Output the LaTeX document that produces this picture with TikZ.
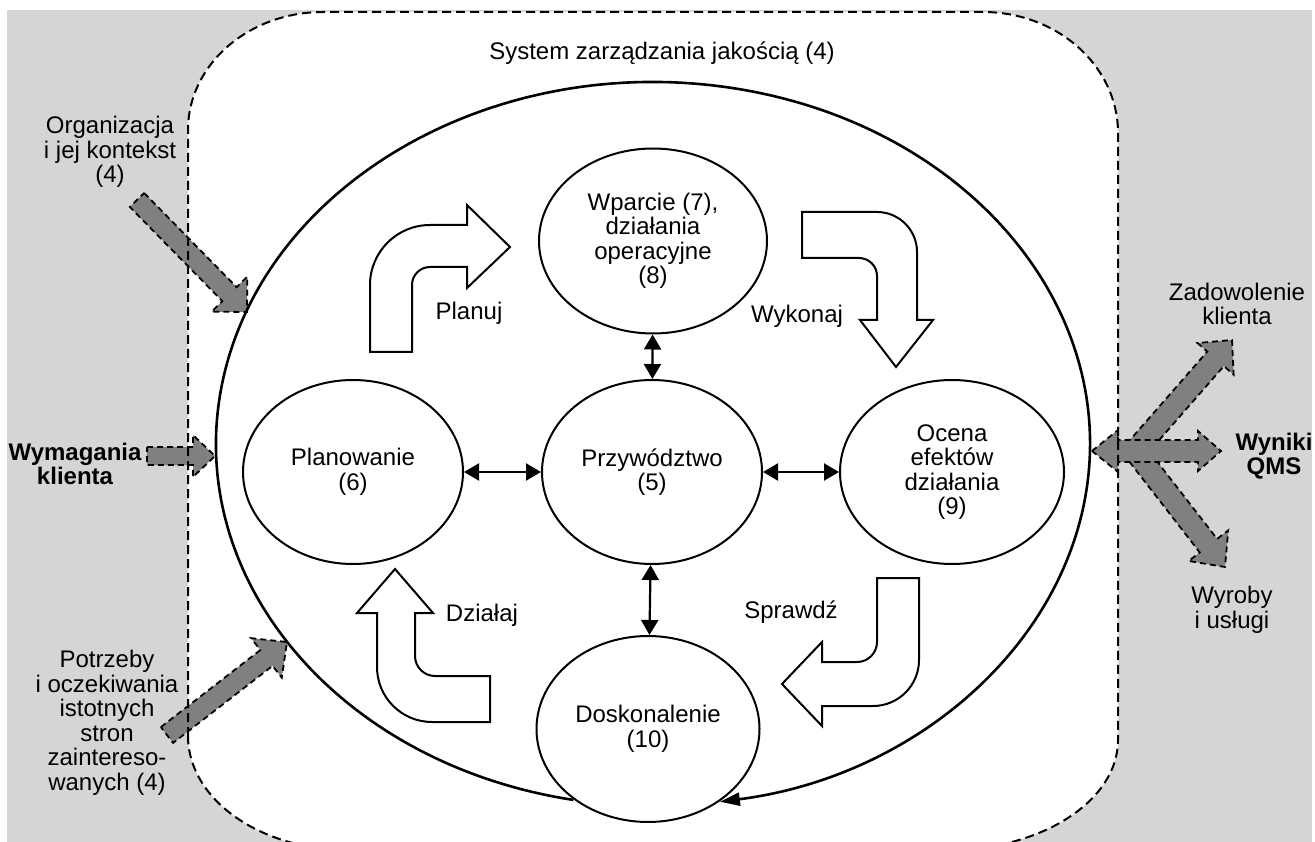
\documentclass[tikz,border=0pt]{standalone}
\usepackage{fontspec}
\setmainfont{Liberation Sans}
\usetikzlibrary{shapes.geometric, arrows.meta, calc}
\definecolor{bggray}{RGB}{213,213,213}
\definecolor{arrowgray}{RGB}{128,128,128}
\newcommand\qmsarrow[5]{%
  \coordinate (#2b) at ($(#2)!#4!(#1)$);
  \path[grayarrow] ($(#1)!#3!90:(#2)$) -- ($(#2b)!#3!90:(#2)$) -- ($(#2b)!#5!90:(#2)$) -- (#2)
    -- ($(#2b)!#5!-90:(#2)$) -- ($(#2b)!#3!-90:(#2)$) -- ($(#1)!#3!-90:(#2)$) -- cycle;}
\begin{document}
\begin{tikzpicture}[x=1pt, y=-1pt,
  every node/.style={font=\fontsize{24}{24.5}\selectfont, align=center, inner sep=0pt},
  boldtext/.style={font=\fontsize{24}{24.5}\selectfont\bfseries},
  proc/.style={draw, line width=2pt, ellipse, fill=white, minimum width=220pt, minimum height=184pt},
  dbl/.style={line width=2.2pt, {Triangle[length=15pt,width=17pt]}-{Triangle[length=15pt,width=17pt]}},
  blockarrow/.style={draw, line width=2pt, fill=white},
  grayarrow/.style={fill=arrowgray, draw, line width=1.8pt, dash pattern=on 6pt off 4pt},
  border/.style={draw, line width=2pt, dash pattern=on 9pt off 5pt}
]
\useasboundingbox (0,0) rectangle (1315,842);
\clip (0,0) rectangle (1315,842);
% background
\fill[bggray] (7,10) rectangle (1312,842);
\path[fill=white] (188,736) -- (188,130) arc[start angle=180,end angle=270,x radius=135,y radius=118]
  -- (983,12) arc[start angle=270,end angle=360,x radius=135,y radius=121]
  -- (1118,740) arc[start angle=0,end angle=90,x radius=170,y radius=110]
  -- (348,850) arc[start angle=90,end angle=180,x radius=160,y radius=114] -- cycle;

% gray input / output arrows
\coordinate (orgT) at (137,200); \coordinate (orgP) at (247,312);
\coordinate (wymT) at (147,456); \coordinate (wymP) at (215,456);
\coordinate (potT) at (167,735); \coordinate (potP) at (287,642);
\coordinate (zadT) at (1135,451); \coordinate (zadP) at (1232,340);
\coordinate (wyrT) at (1135,451); \coordinate (wyrP) at (1225,567);
\qmsarrow{orgT}{orgP}{10pt}{25pt}{25pt}
\qmsarrow{wymT}{wymP}{9pt}{22pt}{21pt}
\qmsarrow{potT}{potP}{10pt}{26pt}{25pt}
\qmsarrow{zadT}{zadP}{11pt}{25pt}{24pt}
\qmsarrow{wyrT}{wyrP}{11pt}{27pt}{25pt}
\coordinate (resL) at (1092,451); \coordinate (resR) at (1221,451);
\path[grayarrow] (resL) -- (1118,430) -- (1118,440) -- (1198,440) -- (1198,431) -- (resR)
  -- (1198,471) -- (1198,462) -- (1118,462) -- (1118,472) -- cycle;

% dashed system border
\path[border] (188,736) -- (188,130) arc[start angle=180,end angle=270,x radius=135,y radius=118]
  -- (983,12) arc[start angle=270,end angle=360,x radius=135,y radius=121]
  -- (1118,740) arc[start angle=0,end angle=90,x radius=170,y radius=110]
  -- (348,850) arc[start angle=90,end angle=180,x radius=160,y radius=114] -- cycle;

\node (title) at (662,53) {System zarządzania jakością (4)};

% big cycle
\coordinate (bigC) at (653,444);
\draw[line width=2.6pt, -{Triangle[length=20pt,width=13pt]}]
  ($(bigC)+(100.5:437 and 362)$) arc[start angle=100.5, end angle=441.2, x radius=437, y radius=362];

% process ellipses
\node[proc, minimum width=228pt, minimum height=185pt] (wsp) at (653,241) {Wparcie (7),\\działania\\operacyjne\\(8)};
\node[proc] (plan) at (353,472) {Planowanie\\(6)};
\node[proc] (przyw) at (652,472) {Przywództwo\\(5)};
\node[proc, minimum width=224pt] (ocena) at (952,472) {Ocena\\efektów\\działania\\(9)};
\node[proc, minimum width=223pt, minimum height=186pt] (dosk) at (648,729) {Doskonalenie\\(10)};

\draw[dbl] (plan) -- (przyw);
\draw[dbl] (przyw) -- (ocena);
\draw[dbl] (wsp) -- (przyw);
\draw[dbl] (przyw) -- (dosk);

% PDCA block arrows
\path[blockarrow] (370,352) -- (370,285) arc[start angle=180,end angle=270,radius=60] -- (467,225)
  -- (467,205) -- (510,247) -- (467,288) -- (467,267) -- (430,267)
  arc[start angle=270,end angle=180,radius=18] -- (412,352) -- cycle;
\path[blockarrow] (802,212) -- (877,212) arc[start angle=270,end angle=360,radius=40] -- (917,320)
  -- (933,320) -- (896,367) -- (860,320) -- (877,320) -- (877,276)
  arc[start angle=0,end angle=-90,radius=18] -- (802,258) -- cycle;
\path[blockarrow] (877,578) -- (919,578) -- (919,660) arc[start angle=0,end angle=90,radius=46]
  -- (822,706) -- (822,726) -- (782,684) -- (822,642) -- (822,662) -- (857,662)
  arc[start angle=90,end angle=0,radius=20] -- cycle;
\path[blockarrow] (377,613) -- (377,667) arc[start angle=180,end angle=90,radius=55] -- (490,722)
  -- (490,676) -- (435,676) arc[start angle=90,end angle=180,radius=20] -- (415,613)
  -- (433,613) -- (395,569) -- (357,613) -- cycle;

\node (planuj) at (469,313) {Planuj};
\node (wykonaj) at (797,316) {Wykonaj};
\node (dzialaj) at (482,615) {Działaj};
\node (sprawdz) at (791,612) {Sprawdź};

% outside labels
\node (org) at (110,152) {Organizacja\\i jej kontekst\\(4)};
\node[boldtext] (wym) at (75,464) {Wymagania\\klienta};
\node (potrz) at (107,723) {Potrzeby\\i oczekiwania\\istotnych\\stron\\zaintereso-\\wanych (4)};
\node (zad) at (1237,304) {Zadowolenie\\klienta};
\node[boldtext] (wyn) at (1274,456) {Wyniki\\QMS};
\node (wyr) at (1232,610) {Wyroby\\i usługi};
\end{tikzpicture}
\end{document}
